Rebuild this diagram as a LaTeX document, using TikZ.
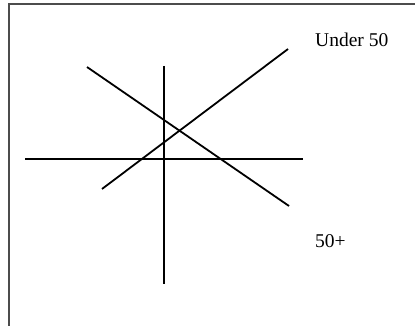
\documentclass[tikz,border=0pt]{standalone}
\usepackage{fontspec}
\setmainfont{Liberation Serif}
\begin{document}
\begin{tikzpicture}[x=1pt, y=-1pt, font=\fontsize{19.5}{23}\selectfont, line join=miter, >=stealth]
	\useasboundingbox (0,0) rectangle (415,326);
	\coordinate (TL) at (9,4.5);
	\coordinate (BL) at (9,326);
	\coordinate (TR) at (415,4.5);
	\coordinate (W) at (25,159);
	\coordinate (E) at (303,159);
	\coordinate (N) at (164,66);
	\coordinate (S) at (164,284);
	\coordinate (P) at (87,67);
	\coordinate (Q) at (289,206);
	\coordinate (R) at (102,189);
	\coordinate (T) at (288,49);
	\draw[line width=2pt, black!70] (BL) -- (TL) -- (TR);
	\draw[line width=1.8pt] (W) -- (E);
	\draw[line width=1.8pt] (N) -- (S);
	\draw[line width=1.8pt] (P) -- (Q);
	\draw[line width=1.8pt] (R) -- (T);
	\node[anchor=base west, inner sep=0pt] (under) at (315,47) {Under 50};
	\node[anchor=base west, inner sep=0pt] (over) at (315,247) {50+};
\end{tikzpicture}
\end{document}
